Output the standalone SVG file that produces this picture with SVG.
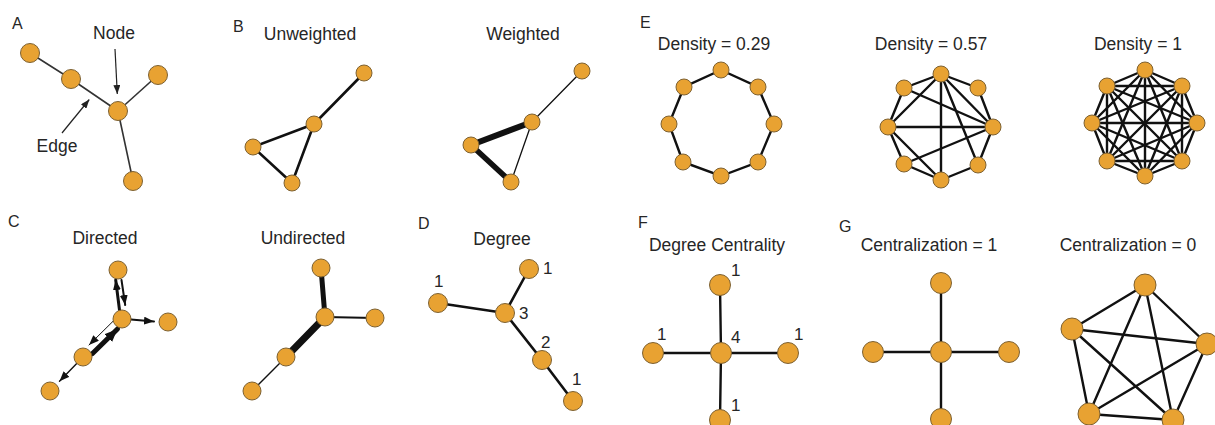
<svg xmlns="http://www.w3.org/2000/svg" width="1215" height="425" viewBox="0 0 1215 425">
<style>
.bg{fill:#ffffff}
.n{fill:#E8A232;stroke:#7d6132;stroke-width:1}
.e{stroke:#111;stroke-linecap:round;fill:none}
.w1{stroke-width:1.4}
.w2{stroke-width:2.4}
.t{font-family:"Liberation Sans",Arial,sans-serif;font-size:17.5px;fill:#262626}
.lab{font-family:"Liberation Sans",Arial,sans-serif;font-size:16px;fill:#262626}
.num{font-family:"Liberation Sans",Arial,sans-serif;font-size:17px;fill:#262626}
.mid{text-anchor:middle}
</style>
<defs>
<marker id="ah" viewBox="0 0 10 10" refX="10" refY="5" markerWidth="10" markerHeight="8" markerUnits="userSpaceOnUse" orient="auto" preserveAspectRatio="none"><path d="M0,0 L10,5 L0,10 z" fill="#111"/></marker>
<marker id="ahb" viewBox="0 0 10 10" refX="10" refY="5" markerWidth="13" markerHeight="11" markerUnits="userSpaceOnUse" orient="auto" preserveAspectRatio="none"><path d="M0,0 L10,5 L0,10 z" fill="#111"/></marker>
<marker id="ahp" viewBox="0 0 10 10" refX="10" refY="5" markerWidth="9" markerHeight="7" markerUnits="userSpaceOnUse" orient="auto" preserveAspectRatio="none"><path d="M0,0 L10,5 L0,10 z" fill="#222"/></marker>
</defs>
<rect class="bg" x="0" y="0" width="1215" height="425"/>

<!-- Labels -->
<g id="labels">
<text class="lab" x="12" y="29">A</text>
<text class="lab" x="233" y="32">B</text>
<text class="lab" x="8" y="227">C</text>
<text class="lab" x="418" y="229">D</text>
<text class="lab" x="640" y="28">E</text>
<text class="lab" x="638" y="228">F</text>
<text class="lab" x="839" y="232">G</text>
<text class="t mid" x="114" y="39">Node</text>
<text class="t mid" x="57" y="152">Edge</text>
<text class="t mid" x="310" y="40">Unweighted</text>
<text class="t mid" x="523" y="40">Weighted</text>
<text class="t mid" x="105" y="244">Directed</text>
<text class="t mid" x="303" y="244">Undirected</text>
<text class="t mid" x="502" y="245">Degree</text>
<text class="t mid" x="714" y="50">Density = 0.29</text>
<text class="t mid" x="931" y="50">Density = 0.57</text>
<text class="t mid" x="1138" y="50">Density = 1</text>
<text class="t mid" x="717" y="251">Degree Centrality</text>
<text class="t mid" x="929" y="251">Centralization = 1</text>
<text class="t mid" x="1128" y="251">Centralization = 0</text>
<text class="num" x="543" y="274">1</text>
<text class="num" x="434" y="287">1</text>
<text class="num" x="519" y="319">3</text>
<text class="num" x="541" y="348">2</text>
<text class="num" x="572" y="385">1</text>
<text class="num" x="731" y="276">1</text>
<text class="num" x="657" y="340">1</text>
<text class="num" x="731" y="343">4</text>
<text class="num" x="794" y="340">1</text>
<text class="num" x="731" y="411">1</text>
</g>

<!-- Connectors -->
<g id="connectors">
<!-- A -->
<g stroke="#333" stroke-width="1.6" stroke-linecap="round">
<line x1="30" y1="53" x2="71" y2="79"/>
<line x1="71" y1="79" x2="118" y2="111"/>
<line x1="118" y1="111" x2="158" y2="75"/>
<line x1="118" y1="111" x2="133" y2="181"/>
</g>
<line x1="115" y1="49" x2="117.3" y2="94" stroke="#222" stroke-width="1.2" marker-end="url(#ahp)"/>
<line x1="62" y1="133" x2="89.3" y2="99.5" stroke="#222" stroke-width="1.2" marker-end="url(#ahp)"/>
<!-- B unweighted -->
<g class="e" stroke-width="2.6">
<line x1="364" y1="73" x2="314" y2="124"/>
<line x1="314" y1="124" x2="253" y2="147"/>
<line x1="314" y1="124" x2="292" y2="183"/>
<line x1="253" y1="147" x2="292" y2="183"/>
</g>
<!-- B weighted -->
<line class="e" x1="582" y1="71" x2="532" y2="122" stroke-width="1.3"/>
<line class="e" x1="532" y1="122" x2="471" y2="145" stroke-width="6"/>
<line class="e" x1="532" y1="122" x2="511" y2="182" stroke-width="1.3"/>
<line class="e" x1="471" y1="145" x2="511" y2="182" stroke-width="5.5"/>
<!-- C directed -->
<line class="e" x1="119.5" y1="310" x2="115.7" y2="280" stroke-width="3" marker-end="url(#ah)"/>
<line class="e" x1="121.5" y1="280" x2="125.2" y2="305" stroke-width="2" marker-end="url(#ah)"/>
<line class="e" x1="131" y1="319.5" x2="154" y2="321.5" stroke-width="2" marker-end="url(#ah)"/>
<line class="e" x1="112.8" y1="321.5" x2="89" y2="345" stroke-width="1" marker-end="url(#ah)"/>
<line class="e" x1="92.5" y1="353.5" x2="117.5" y2="329" stroke-width="5" stroke-linecap="butt" marker-end="url(#ahb)"/>
<line class="e" x1="76.7" y1="363.5" x2="59.5" y2="381.2" stroke-width="1.4" marker-end="url(#ah)"/>
<!-- C undirected -->
<line class="e" x1="321" y1="268" x2="325" y2="317" stroke-width="5"/>
<line class="e" x1="325" y1="317" x2="375" y2="318" stroke-width="2"/>
<line class="e" x1="325" y1="317" x2="286" y2="357" stroke-width="7"/>
<line class="e" x1="286" y1="357" x2="252" y2="391" stroke-width="1.3"/>
<!-- D -->
<g class="e" stroke-width="2.6">
<line x1="505" y1="313" x2="529" y2="269"/>
<line x1="505" y1="313" x2="438" y2="303"/>
<line x1="505" y1="313" x2="542" y2="360"/>
<line x1="542" y1="360" x2="573" y2="401"/>
</g>
<!-- E1 ring -->
<polygon class="e" stroke-width="2.4" points="721,70 758,87 774,124 758,162 721,176 683,162 669,124 684,87"/>
<!-- E2 -->
<g class="e w2">
<line x1="904" y1="88" x2="941" y2="74"/>
<line x1="904" y1="88" x2="888" y2="127"/>
<line x1="888" y1="127" x2="941" y2="74"/>
<line x1="904" y1="88" x2="993" y2="127"/>
<line x1="888" y1="127" x2="993" y2="127"/>
<line x1="888" y1="127" x2="904" y2="164"/>
<line x1="888" y1="127" x2="941" y2="180"/>
<line x1="904" y1="164" x2="941" y2="180"/>
<line x1="904" y1="164" x2="993" y2="127"/>
<line x1="941" y1="74" x2="941" y2="180"/>
<line x1="941" y1="74" x2="978" y2="165"/>
<line x1="941" y1="74" x2="993" y2="127"/>
<line x1="941" y1="180" x2="978" y2="165"/>
<line x1="978" y1="165" x2="993" y2="127"/>
<line x1="941" y1="74" x2="978" y2="88"/>
<line x1="978" y1="88" x2="993" y2="127"/>
</g>
<!-- E3 complete -->
<g class="e w2">
<line x1="1145" y1="70" x2="1182" y2="86"/>
<line x1="1145" y1="70" x2="1197" y2="123"/>
<line x1="1145" y1="70" x2="1182" y2="161"/>
<line x1="1145" y1="70" x2="1145" y2="176"/>
<line x1="1145" y1="70" x2="1107" y2="161"/>
<line x1="1145" y1="70" x2="1092" y2="123"/>
<line x1="1145" y1="70" x2="1107" y2="86"/>
<line x1="1182" y1="86" x2="1197" y2="123"/>
<line x1="1182" y1="86" x2="1182" y2="161"/>
<line x1="1182" y1="86" x2="1145" y2="176"/>
<line x1="1182" y1="86" x2="1107" y2="161"/>
<line x1="1182" y1="86" x2="1092" y2="123"/>
<line x1="1182" y1="86" x2="1107" y2="86"/>
<line x1="1197" y1="123" x2="1182" y2="161"/>
<line x1="1197" y1="123" x2="1145" y2="176"/>
<line x1="1197" y1="123" x2="1107" y2="161"/>
<line x1="1197" y1="123" x2="1092" y2="123"/>
<line x1="1197" y1="123" x2="1107" y2="86"/>
<line x1="1182" y1="161" x2="1145" y2="176"/>
<line x1="1182" y1="161" x2="1107" y2="161"/>
<line x1="1182" y1="161" x2="1092" y2="123"/>
<line x1="1182" y1="161" x2="1107" y2="86"/>
<line x1="1145" y1="176" x2="1107" y2="161"/>
<line x1="1145" y1="176" x2="1092" y2="123"/>
<line x1="1145" y1="176" x2="1107" y2="86"/>
<line x1="1107" y1="161" x2="1092" y2="123"/>
<line x1="1107" y1="161" x2="1107" y2="86"/>
<line x1="1092" y1="123" x2="1107" y2="86"/>
</g>
<!-- F star -->
<g class="e w2">
<line x1="720" y1="285" x2="721" y2="353"/>
<line x1="653" y1="353" x2="788" y2="353"/>
<line x1="721" y1="353" x2="720" y2="420"/>
</g>
<!-- G star -->
<g class="e w2">
<line x1="941" y1="283" x2="941" y2="419"/>
<line x1="873" y1="352" x2="1009" y2="352"/>
</g>
<!-- G pentagon complete -->
<g class="e w2">
<line x1="1145" y1="285" x2="1072" y2="329"/>
<line x1="1145" y1="285" x2="1207" y2="344"/>
<line x1="1145" y1="285" x2="1089" y2="414"/>
<line x1="1145" y1="285" x2="1173" y2="420"/>
<line x1="1072" y1="329" x2="1207" y2="344"/>
<line x1="1072" y1="329" x2="1089" y2="414"/>
<line x1="1072" y1="329" x2="1173" y2="420"/>
<line x1="1207" y1="344" x2="1089" y2="414"/>
<line x1="1207" y1="344" x2="1173" y2="420"/>
<line x1="1089" y1="414" x2="1173" y2="420"/>
</g>
</g>

<!-- Nodes -->
<g id="nodes-A">
<circle id="a1" class="n" cx="30" cy="53" r="9.5"/>
<circle id="a2" class="n" cx="71" cy="79" r="9.5"/>
<circle id="a3" class="n" cx="118" cy="111" r="9.5"/>
<circle id="a4" class="n" cx="158" cy="75" r="9.5"/>
<circle id="a5" class="n" cx="133" cy="181" r="9.5"/>
</g>
<g id="nodes-B">
<circle id="bu1" class="n" cx="364" cy="73" r="8"/>
<circle id="bu2" class="n" cx="314" cy="124" r="8"/>
<circle id="bu3" class="n" cx="253" cy="147" r="8"/>
<circle id="bu4" class="n" cx="292" cy="183" r="8"/>
<circle id="bw1" class="n" cx="582" cy="71" r="8"/>
<circle id="bw2" class="n" cx="532" cy="122" r="8"/>
<circle id="bw3" class="n" cx="471" cy="145" r="8"/>
<circle id="bw4" class="n" cx="511" cy="182" r="8"/>
</g>
<g id="nodes-C">
<circle id="cd1" class="n" cx="118" cy="270" r="9"/>
<circle id="cd2" class="n" cx="122" cy="319" r="9"/>
<circle id="cd3" class="n" cx="168" cy="322" r="9"/>
<circle id="cd4" class="n" cx="83" cy="357" r="9"/>
<circle id="cd5" class="n" cx="50" cy="391" r="9"/>
<circle id="cu1" class="n" cx="321" cy="268" r="9"/>
<circle id="cu2" class="n" cx="325" cy="317" r="9"/>
<circle id="cu3" class="n" cx="375" cy="318" r="9"/>
<circle id="cu4" class="n" cx="286" cy="357" r="9"/>
<circle id="cu5" class="n" cx="252" cy="391" r="9"/>
</g>
<g id="nodes-D">
<circle id="d1" class="n" cx="529" cy="269" r="9.5"/>
<circle id="d2" class="n" cx="438" cy="303" r="9.5"/>
<circle id="d3" class="n" cx="505" cy="313" r="9.5"/>
<circle id="d4" class="n" cx="542" cy="360" r="9.5"/>
<circle id="d5" class="n" cx="573" cy="401" r="9.5"/>
</g>
<g id="nodes-E1">
<circle class="n" cx="721" cy="70" r="8"/>
<circle class="n" cx="758" cy="87" r="8"/>
<circle class="n" cx="774" cy="124" r="8"/>
<circle class="n" cx="758" cy="162" r="8"/>
<circle class="n" cx="721" cy="176" r="8"/>
<circle class="n" cx="683" cy="162" r="8"/>
<circle class="n" cx="669" cy="124" r="8"/>
<circle class="n" cx="684" cy="87" r="8"/>
</g>
<g id="nodes-E2">
<circle class="n" cx="941" cy="74" r="8"/>
<circle class="n" cx="978" cy="88" r="8"/>
<circle class="n" cx="993" cy="127" r="8"/>
<circle class="n" cx="978" cy="165" r="8"/>
<circle class="n" cx="941" cy="180" r="8"/>
<circle class="n" cx="904" cy="164" r="8"/>
<circle class="n" cx="888" cy="127" r="8"/>
<circle class="n" cx="904" cy="88" r="8"/>
</g>
<g id="nodes-E3">
<circle class="n" cx="1145" cy="70" r="8"/>
<circle class="n" cx="1182" cy="86" r="8"/>
<circle class="n" cx="1197" cy="123" r="8"/>
<circle class="n" cx="1182" cy="161" r="8"/>
<circle class="n" cx="1145" cy="176" r="8"/>
<circle class="n" cx="1107" cy="161" r="8"/>
<circle class="n" cx="1092" cy="123" r="8"/>
<circle class="n" cx="1107" cy="86" r="8"/>
</g>
<g id="nodes-F">
<circle class="n" cx="720" cy="285" r="10.5"/>
<circle class="n" cx="653" cy="353" r="10.5"/>
<circle class="n" cx="721" cy="353" r="10.5"/>
<circle class="n" cx="788" cy="353" r="10.5"/>
<circle class="n" cx="720" cy="420" r="10.5"/>
</g>
<g id="nodes-G1">
<circle class="n" cx="941" cy="283" r="10.5"/>
<circle class="n" cx="873" cy="352" r="10.5"/>
<circle class="n" cx="941" cy="352" r="10.5"/>
<circle class="n" cx="1009" cy="352" r="10.5"/>
<circle class="n" cx="941" cy="419" r="10.5"/>
</g>
<g id="nodes-G2">
<circle class="n" cx="1145" cy="285" r="11"/>
<circle class="n" cx="1072" cy="329" r="11"/>
<circle class="n" cx="1207" cy="344" r="11"/>
<circle class="n" cx="1089" cy="414" r="11"/>
<circle class="n" cx="1173" cy="420" r="11"/>
</g>
</svg>
